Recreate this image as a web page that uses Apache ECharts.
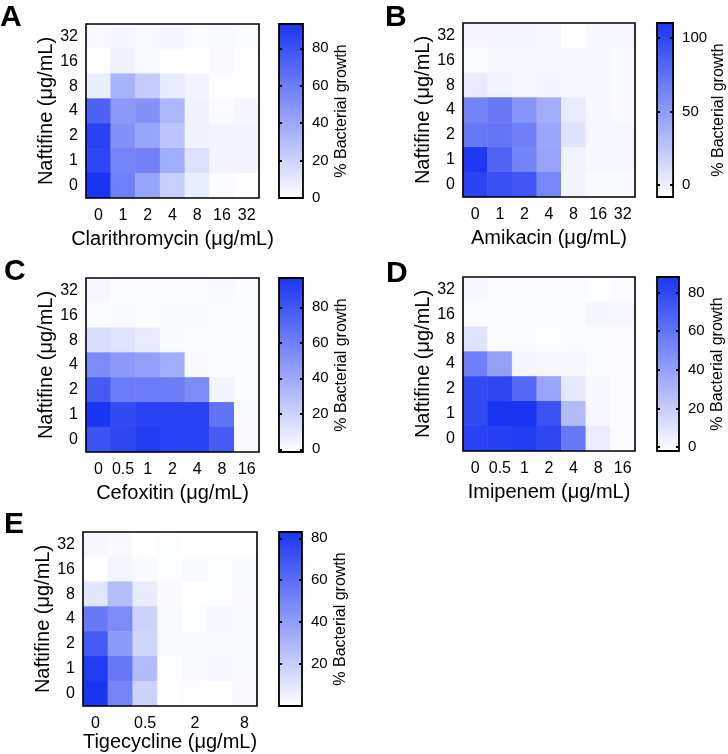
<!DOCTYPE html>
<html>
<head>
<meta charset="utf-8">
<script src="https://cdn.jsdelivr.net/npm/echarts@6/dist/echarts.min.js"></script>
<style>
  html, body { margin: 0; padding: 0; background: #fff; }
  #chart { width: 728px; height: 754px; }
</style>
</head>
<body>
<div id="chart"></div>
<script>
// y categories (bottom to top)
const naftifine = ["0", "1", "2", "4", "8", "16", "32"];

// x categories per panel
const clarithromycin = ["0", "1", "2", "4", "8", "16", "32"];
const amikacin = ["0", "1", "2", "4", "8", "16", "32"];
const cefoxitin = ["0", "0.5", "1", "2", "4", "8", "16"];
const imipenem = ["0", "0.5", "1", "2", "4", "8", "16"];
const tigecycline = ["0", "0.25", "0.5", "1", "2", "4", "8"];

// % growth, rows from naftifine 32 (top) down to 0 (bottom)
const growthA = [
  [3, 4, 3, 4, 2, 3, 2],
  [1, 6, 3, 0, 0, 3, 1],
  [8, 35, 24, 9, 5, 1, 1],
  [72, 47, 50, 33, 6, 2, 4],
  [87, 50, 42, 27, 6, 5, 5],
  [85, 56, 58, 38, 14, 5, 5],
  [93, 58, 42, 22, 8, 2, 0]
];
const growthB = [
  [-3, -3, -3, -4, -8, -4, -4],
  [-6, -4, -4, -4, -4, -4, -5],
  [3, -1, -4, -2, -4, -4, -5],
  [64, 70, 54, 40, 4, -4, -5],
  [70, 72, 66, 44, 8, -4, -4],
  [108, 82, 64, 46, -1, -4, -4],
  [102, 94, 90, 62, -2, -5, -5]
];
const growthC = [
  [2, 0, 0, 0, 0, 1, 0],
  [0, 1, 0, 1, 1, 0, 0],
  [15, 12, 8, 1, 0, 0, 0],
  [55, 48, 45, 38, 1, 0, 0],
  [78, 62, 62, 62, 55, 4, 0],
  [96, 86, 90, 90, 90, 66, 1],
  [82, 88, 93, 90, 90, 78, 1]
];
const growthD = [
  [1, 0, 0, 0, 0, -1, 0],
  [0, 0, 0, 0, 0, 2, 1],
  [10, 0, 0, -1, 0, 0, 0],
  [55, 40, 2, 1, 1, 0, 0],
  [78, 80, 65, 38, 8, 1, 0],
  [78, 88, 88, 75, 28, 1, 0],
  [82, 83, 85, 80, 58, 6, 0]
];
const growthE = [
  [3, 2, 0, 1, 0, 0, 0],
  [0, 4, 2, 1, 2, 1, 2],
  [10, 27, 8, 2, 0, 1, 2],
  [55, 48, 18, 2, 1, 3, 2],
  [68, 42, 17, 2, 2, 2, 2],
  [80, 55, 28, 1, 2, 3, 2],
  [83, 50, 18, 0, 1, 0, 2]
];

// colour bar ranges and tick labels
const rangeA = [0, 93];
const rangeB = [-8, 110];
const rangeC = [-1.5, 96.5];
const rangeD = [-2, 88];
const rangeE = [0, 83];
const ticksA = [0, 20, 40, 60, 80];
const ticksB = [0, 50, 100];
const ticksC = [0, 20, 40, 60, 80];
const ticksD = [0, 20, 40, 60, 80];
const ticksE = [20, 40, 60, 80];

const font = "Liberation Sans, Arial, Helvetica, sans-serif";
const blue = "#1a35f2";

const panels = [
  { letter: "A", xName: "Clarithromycin (μg/mL)", xCats: clarithromycin, rows: growthA, range: rangeA, ticks: ticksA,
    box: [86, 24, 173, 174], bar: [279, 24, 24, 174], pos: [0, 3], step: 0, xGap: 31 },
  { letter: "B", xName: "Amikacin (μg/mL)", xCats: amikacin, rows: growthB, range: rangeB, ticks: ticksB,
    box: [463, 23, 172, 174], bar: [657, 23, 22, 174], pos: [385, 3], step: 0, xGap: 31 },
  { letter: "C", xName: "Cefoxitin (μg/mL)", xCats: cefoxitin, rows: growthC, range: rangeC, ticks: ticksC,
    box: [86, 278, 173, 174], bar: [279, 278, 24, 174], pos: [4, 257], step: 0, xGap: 31 },
  { letter: "D", xName: "Imipenem (μg/mL)", xCats: imipenem, rows: growthD, range: rangeD, ticks: ticksD,
    box: [463, 277, 172, 174], bar: [657, 277, 22, 174], pos: [386, 259], step: 0, xGap: 31 },
  { letter: "E", xName: "Tigecycline (μg/mL)", xCats: tigecycline, rows: growthE, range: rangeE, ticks: ticksE,
    box: [83, 532, 174, 174], bar: [279, 532, 23, 174], pos: [4, 510], step: 1, xGap: 26 }
];

const chart = echarts.init(document.getElementById("chart"));

const tickLine = { color: "#000", width: 1.5 };
const title = [], grid = [], xAxis = [], yAxis = [], visualMap = [], series = [];

panels.forEach(function (p, i) {
  title.push({
    text: p.letter, left: p.pos[0], top: p.pos[1], padding: 0,
    textStyle: { fontSize: 30, fontWeight: "bold", fontFamily: font, color: "#000" }
  });

  // heatmap grid (border drawn above cells)
  grid.push({
    left: p.box[0], top: p.box[1], width: p.box[2], height: p.box[3],
    show: true, z: 5, backgroundColor: "transparent", borderColor: "#000", borderWidth: 1.6
  });
  // colour bar grid
  grid.push({
    left: p.bar[0], top: p.bar[1], width: p.bar[2], height: p.bar[3],
    show: true, borderColor: "#000", borderWidth: 1.8,
    backgroundColor: {
      type: "linear", x: 0, y: 0, x2: 0, y2: 1,
      colorStops: [{ offset: 0, color: blue }, { offset: 1, color: "#ffffff" }]
    }
  });

  const hIdx = yAxis.length;
  xAxis.push({
    gridIndex: 2 * i, type: "category", data: p.xCats,
    axisLine: { show: false },
    axisTick: { alignWithLabel: true, length: 4, interval: p.step, lineStyle: tickLine },
    axisLabel: { interval: p.step, margin: 10, color: "#000", fontSize: 16, fontFamily: font },
    splitLine: { show: false },
    name: p.xName, nameLocation: "middle", nameGap: p.xGap,
    nameTextStyle: { fontSize: 20, color: "#000", fontFamily: font }
  });
  yAxis.push({
    gridIndex: 2 * i, type: "category", data: naftifine,
    axisLine: { show: false },
    axisTick: { alignWithLabel: true, length: 4, lineStyle: tickLine },
    axisLabel: { margin: 8, color: "#000", fontSize: 16, fontFamily: font },
    splitLine: { show: false },
    name: "Naftifine (μg/mL)", nameLocation: "middle", nameRotate: 90, nameGap: 29,
    nameTextStyle: { fontSize: 20, color: "#000", fontFamily: font }
  });

  xAxis.push({ gridIndex: 2 * i + 1, type: "value", show: false, min: 0, max: 1 });
  // right side of colour bar: inner ticks + labels + title
  yAxis.push({
    gridIndex: 2 * i + 1, type: "value", position: "right",
    min: p.range[0], max: p.range[1],
    axisLine: { show: false, onZero: false },
    splitLine: { show: false },
    axisTick: { show: true, inside: true, length: 3, customValues: p.ticks, lineStyle: { color: "#000", width: 2 } },
    axisLabel: { customValues: p.ticks, margin: 9, color: "#000", fontSize: 15, fontFamily: font },
    name: "% Bacterial growth", nameLocation: "middle", nameRotate: 90, nameGap: 31,
    nameTextStyle: { fontSize: 16, color: "#000", fontFamily: font }
  });
  // left side of colour bar: inner ticks only
  yAxis.push({
    gridIndex: 2 * i + 1, type: "value", position: "left",
    min: p.range[0], max: p.range[1],
    axisLine: { show: false, onZero: false },
    splitLine: { show: false },
    axisTick: { show: true, inside: true, length: 3, customValues: p.ticks, lineStyle: { color: "#000", width: 2 } },
    axisLabel: { show: false }
  });

  const data = [];
  p.rows.forEach(function (row, r) {
    row.forEach(function (v, c) {
      data.push([c, naftifine.length - 1 - r, v]);
    });
  });

  visualMap.push({
    type: "continuous", show: false, seriesIndex: i, dimension: 2,
    min: p.range[0], max: p.range[1],
    inRange: { color: ["#ffffff", blue] }
  });

  series.push({
    type: "heatmap", xAxisIndex: 2 * i, yAxisIndex: hIdx, data: data,
    itemStyle: { borderWidth: 0 },
    emphasis: { disabled: true },
    label: { show: false }
  });
});

const option = {
  animation: false,
  backgroundColor: "#fff",
  textStyle: { fontFamily: font },
  title: title,
  grid: grid,
  xAxis: xAxis,
  yAxis: yAxis,
  visualMap: visualMap,
  series: series
};
chart.setOption(option, true);
</script>
</body>
</html>
